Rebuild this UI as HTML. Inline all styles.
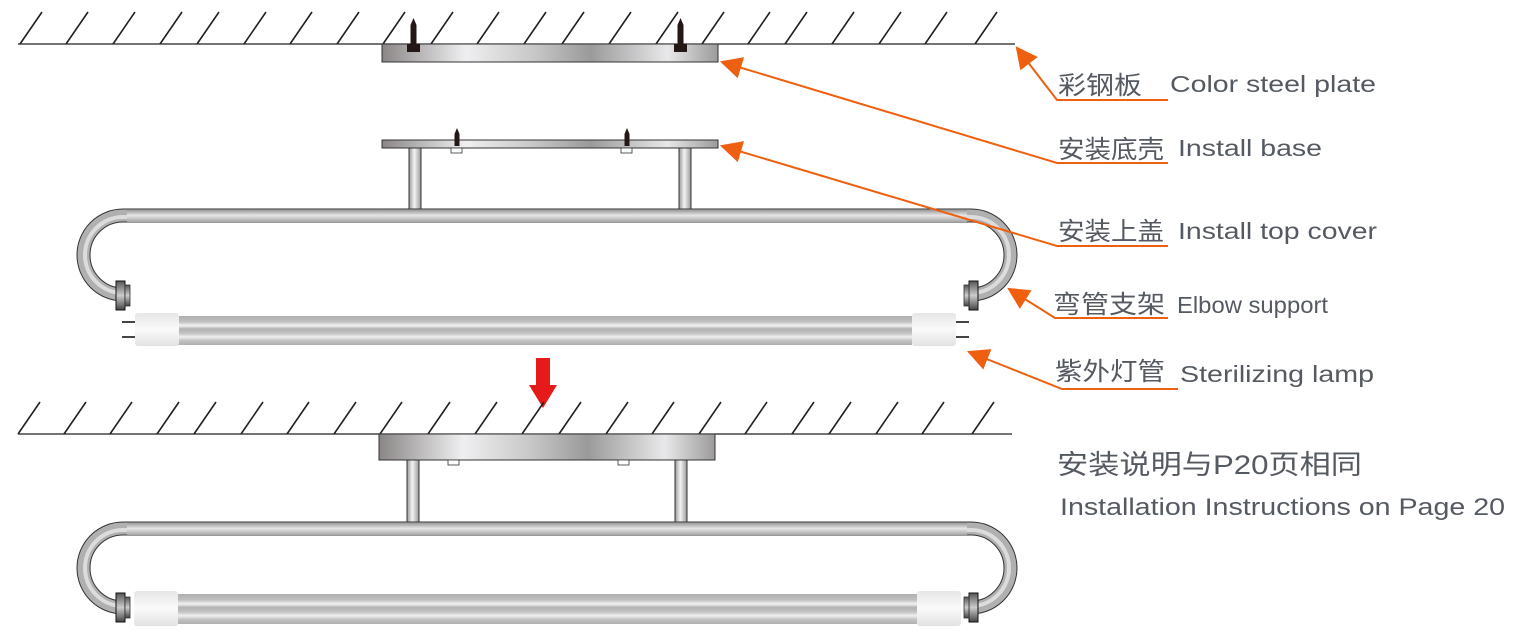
<!DOCTYPE html>
<html><head><meta charset="utf-8"><style>
html,body{margin:0;padding:0;background:#fff;}
svg{display:block;}
.cn{font-family:"Liberation Sans","Noto Sans CJK SC",sans-serif;fill:#555a62;}
.en{font-family:"Liberation Sans",sans-serif;fill:#555a62;}
</style></head><body>
<svg width="1524" height="642" viewBox="0 0 1524 642" xmlns="http://www.w3.org/2000/svg">
<defs>
<linearGradient id="plate" x1="0" y1="0" x2="1" y2="0">
<stop offset="0" stop-color="#8a8686"/><stop offset="0.25" stop-color="#efeff1"/><stop offset="0.45" stop-color="#c8c8c8"/><stop offset="0.62" stop-color="#9a9a9a"/><stop offset="0.85" stop-color="#e8e8ea"/><stop offset="1" stop-color="#9c9a9a"/>
</linearGradient>
<linearGradient id="post" x1="0" y1="0" x2="1" y2="0">
<stop offset="0" stop-color="#999"/><stop offset="0.45" stop-color="#f4f4f4"/><stop offset="1" stop-color="#999"/>
</linearGradient>
<linearGradient id="tubeH" x1="0" y1="0" x2="0" y2="1">
<stop offset="0" stop-color="#9a9a9a"/><stop offset="0.45" stop-color="#e6e6e6"/><stop offset="1" stop-color="#a5a5a5"/>
</linearGradient>
<linearGradient id="lamp" x1="0" y1="0" x2="0" y2="1">
<stop offset="0" stop-color="#b0b0b0"/><stop offset="0.2" stop-color="#c0c0c0"/><stop offset="0.33" stop-color="#f2f2f2"/><stop offset="0.45" stop-color="#b2b2b2"/><stop offset="0.6" stop-color="#c4c4c4"/><stop offset="0.72" stop-color="#f0f0f0"/><stop offset="0.85" stop-color="#c2c2c2"/><stop offset="1" stop-color="#b0b0b0"/>
</linearGradient>
<linearGradient id="capw" x1="0" y1="0" x2="0" y2="1">
<stop offset="0" stop-color="#e6e6e6"/><stop offset="0.5" stop-color="#fafafa"/><stop offset="1" stop-color="#e2e2e2"/>
</linearGradient>
<linearGradient id="ecap" x1="0" y1="0" x2="0" y2="1">
<stop offset="0" stop-color="#555"/><stop offset="0.5" stop-color="#ccc"/><stop offset="1" stop-color="#444"/>
</linearGradient>
<marker id="ar" viewBox="0 0 10 10" refX="9" refY="5" markerWidth="22" markerHeight="22" markerUnits="userSpaceOnUse" orient="auto">
<path d="M0,0 L10,5 L0,10 z" fill="#ee6010"/>
</marker>
</defs>

<g stroke="#222" stroke-width="1.6" fill="none">
<line x1="18" y1="44" x2="1015" y2="44" stroke-width="1.2"/>
<path d="M20 44l22 -32M66 44l22 -32M113 44l22 -32M160 44l22 -32M197 44l22 -32M244 44l22 -32M290 44l22 -32M337 44l22 -32M383 44l22 -32M431 44l22 -32M477 44l22 -32M524 44l22 -32M562 44l22 -32M609 44l22 -32M656 44l22 -32M702 44l22 -32M748 44l22 -32M785 44l22 -32M832 44l22 -32M879 44l22 -32M925 44l22 -32M975 44l22 -32"/>
</g>
<rect x="382" y="44" width="336" height="18" fill="url(#plate)" stroke="#333" stroke-width="1"/>
<g fill="#231815">
<rect x="407" y="44" width="13" height="8"/><path d="M410.5 44V25l3 -7l3 7V44z"/>
<rect x="674" y="44" width="13" height="8"/><path d="M677.5 44V25l3 -7l3 7V44z"/>
</g>

<rect x="409" y="148" width="12" height="61" fill="url(#post)" stroke="#333" stroke-width="1"/>
<rect x="679" y="148" width="12" height="61" fill="url(#post)" stroke="#333" stroke-width="1"/>
<rect x="382" y="140" width="336" height="8" fill="url(#plate)" stroke="#333" stroke-width="1"/>
<rect x="451" y="148" width="11" height="5" fill="#fff" stroke="#333" stroke-width="0.8"/>
<rect x="621" y="148" width="11" height="5" fill="#fff" stroke="#333" stroke-width="0.8"/>
<g fill="#231815">
<path d="M454.5 146V134l2.5 -6l2.5 6V146z"/><path d="M624.5 146V134l2.5 -6l2.5 6V146z"/>
</g>

<g fill="none">
<path d="M116 294.5H123A39.5 39.5 0 0 1 123 215.5H971A39.5 39.5 0 0 1 971 294.5H977" stroke="#333" stroke-width="14"/>
<path d="M116 294.5H123A39.5 39.5 0 0 1 123 215.5H971A39.5 39.5 0 0 1 971 294.5H977" stroke="#b0b0b0" stroke-width="12"/>
<path d="M116 293H123A38 38 0 0 1 123 217H971A38 38 0 0 1 971 293H977" stroke="#dcdcdc" stroke-width="4"/>
</g>
<rect x="127" y="210" width="840" height="12" fill="url(#tubeH)"/>
<rect x="116" y="281" width="9" height="29" fill="url(#ecap)" stroke="#111" stroke-width="1"/>
<rect x="125" y="285" width="5" height="21" fill="url(#ecap)" stroke="#333" stroke-width="0.8"/>
<rect x="969" y="281" width="9" height="29" fill="url(#ecap)" stroke="#111" stroke-width="1"/>
<rect x="964" y="285" width="5" height="21" fill="url(#ecap)" stroke="#333" stroke-width="0.8"/>
<rect x="178" y="316" width="734" height="29" fill="url(#lamp)"/>
<rect x="135" y="313" width="44" height="33" rx="3" fill="url(#capw)"/>
<rect x="912" y="313" width="44" height="33" rx="3" fill="url(#capw)"/>
<g stroke="#444" stroke-width="2"><line x1="122" y1="322" x2="135" y2="322"/><line x1="122" y1="337" x2="135" y2="337"/><line x1="956" y1="322" x2="969" y2="322"/><line x1="956" y1="337" x2="969" y2="337"/></g>

<path d="M536 358H550V385H557L543 408L529 385H536z" fill="#e51a1a"/>

<g stroke="#222" stroke-width="1.6" fill="none">
<line x1="18" y1="434" x2="1012" y2="434" stroke-width="1.2"/>
<path d="M18 434l22 -32M64 434l22 -32M110 434l22 -32M157 434l22 -32M194 434l22 -32M241 434l22 -32M287 434l22 -32M334 434l22 -32M380 434l22 -32M428 434l22 -32M475 434l22 -32M522 434l22 -32M559 434l22 -32M606 434l22 -32M652 434l22 -32M699 434l22 -32M745 434l22 -32M792 434l22 -32M829 434l22 -32M876 434l22 -32M922 434l22 -32M972 434l22 -32"/>
</g>
<rect x="407" y="460" width="12" height="62" fill="url(#post)" stroke="#333" stroke-width="1"/>
<rect x="675" y="460" width="12" height="62" fill="url(#post)" stroke="#333" stroke-width="1"/>
<rect x="379" y="434" width="336" height="26" fill="url(#plate)" stroke="#333" stroke-width="1"/>
<rect x="448" y="460" width="11" height="5" fill="#fff" stroke="#333" stroke-width="0.8"/>
<rect x="618" y="460" width="11" height="5" fill="#fff" stroke="#333" stroke-width="0.8"/>

<g fill="none">
<path d="M116 607.5H123A39.5 39.5 0 0 1 123 528.5H971A39.5 39.5 0 0 1 971 607.5H977" stroke="#333" stroke-width="14"/>
<path d="M116 607.5H123A39.5 39.5 0 0 1 123 528.5H971A39.5 39.5 0 0 1 971 607.5H977" stroke="#b0b0b0" stroke-width="12"/>
<path d="M116 606H123A38 38 0 0 1 123 530H971A38 38 0 0 1 971 606H977" stroke="#dcdcdc" stroke-width="4"/>
</g>
<rect x="127" y="523" width="840" height="12" fill="url(#tubeH)"/>
<rect x="116" y="593" width="9" height="29" fill="url(#ecap)" stroke="#111" stroke-width="1"/>
<rect x="125" y="597" width="5" height="21" fill="url(#ecap)" stroke="#333" stroke-width="0.8"/>
<rect x="969" y="593" width="9" height="29" fill="url(#ecap)" stroke="#111" stroke-width="1"/>
<rect x="964" y="597" width="5" height="21" fill="url(#ecap)" stroke="#333" stroke-width="0.8"/>
<rect x="178" y="594" width="740" height="30" fill="url(#lamp)"/>
<rect x="134" y="591" width="44" height="35" rx="3" fill="url(#capw)"/>
<rect x="917" y="591" width="44" height="35" rx="3" fill="url(#capw)"/>

<g stroke="#ee6010" stroke-width="2" fill="none">
<path d="M1168 100H1057L1017 48" marker-end="url(#ar)"/>
<path d="M1168 163H1057L722 62" marker-end="url(#ar)"/>
<path d="M1168 246H1057L722 146" marker-end="url(#ar)"/>
<path d="M1168 318H1055L1009 289" marker-end="url(#ar)"/>
<path d="M1178 389H1062L969 352" marker-end="url(#ar)"/>
</g>

<text class="cn" x="1058" y="94" font-size="25" textLength="84" lengthAdjust="spacingAndGlyphs">彩钢板</text>
<text class="en" x="1170" y="92" font-size="23" textLength="206" lengthAdjust="spacingAndGlyphs">Color steel plate</text>
<text class="cn" x="1058" y="158" font-size="25" textLength="106" lengthAdjust="spacingAndGlyphs">安装底壳</text>
<text class="en" x="1178" y="156" font-size="23" textLength="144" lengthAdjust="spacingAndGlyphs">Install base</text>
<text class="cn" x="1058" y="240" font-size="25" textLength="106" lengthAdjust="spacingAndGlyphs">安装上盖</text>
<text class="en" x="1178" y="239" font-size="23" textLength="199" lengthAdjust="spacingAndGlyphs">Install top cover</text>
<text class="cn" x="1053" y="313" font-size="25" textLength="112" lengthAdjust="spacingAndGlyphs">弯管支架</text>
<text class="en" x="1177" y="313" font-size="23" textLength="151" lengthAdjust="spacingAndGlyphs">Elbow support</text>
<text class="cn" x="1055" y="380" font-size="25" textLength="110" lengthAdjust="spacingAndGlyphs">紫外灯管</text>
<text class="en" x="1180" y="382" font-size="23" textLength="194" lengthAdjust="spacingAndGlyphs">Sterilizing lamp</text>

<text class="cn" x="1057" y="474" font-size="27" textLength="305" lengthAdjust="spacingAndGlyphs">安装说明与P20页相同</text>
<text class="en" x="1060" y="515" font-size="24" textLength="445" lengthAdjust="spacingAndGlyphs">Installation Instructions on Page 20</text>
</svg>
</body></html>
